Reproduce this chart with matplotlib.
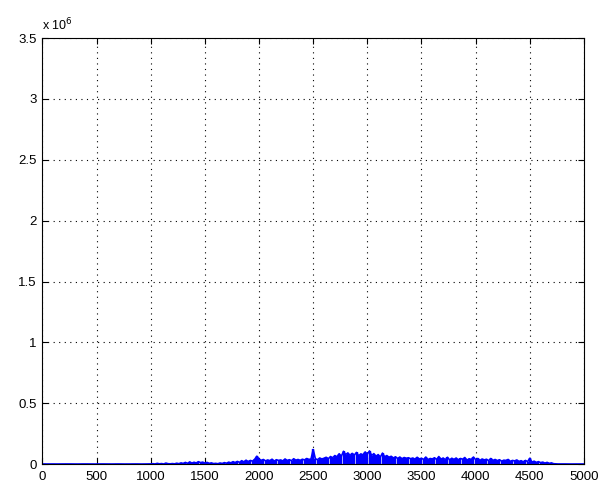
import matplotlib
matplotlib.use("Agg")
import matplotlib.pyplot as plt
import numpy as np

# Peak magnitude (thousands) in consecutive 20-unit bins from 0 to 5000.
SAMPLE_STEP = 20
MAGNITUDE_K = [
    0.5, 1, 0.5, 1, 0.8, 0.5, 1, 0.6, 0.9, 0.5,
    0.7, 1, 0.5, 0.9, 0.6, 1, 0.5, 0.8, 0.6, 1,
    0.5, 0.9, 0.6, 1, 0.5, 0.8, 0.7, 1, 0.5, 0.9,
    0.6, 1, 0.5, 0.8, 0.7, 1, 0.6, 0.9, 0.5, 1,
    0.6, 0.9, 0.5, 1, 0.7, 0.8, 0.5, 1, 0.6, 1.2,
    1.5, 3, 1, 6, 2, 4, 1, 8, 3, 2,
    4, 2, 7, 3, 10, 5, 14, 6, 18, 8,
    15, 9, 20, 12, 16, 8, 14, 6, 10, 4,
    6, 3, 9, 5, 12, 7, 16, 10, 20, 12,
    22, 14, 28, 18, 32, 20, 30, 24, 40, 65,
    42, 30, 38, 26, 34, 28, 40, 24, 36, 30,
    34, 26, 42, 30, 36, 28, 44, 32, 38, 30,
    40, 34, 46, 38, 42, 120, 44, 36, 50, 42,
    48, 56, 44, 62, 52, 70, 60, 85, 64, 105,
    78, 92, 70, 88, 74, 96, 68, 84, 76, 100,
    82, 108, 70, 86, 64, 78, 58, 90, 60, 70,
    56, 64, 50, 60, 46, 58, 44, 54, 48, 52,
    44, 50, 40, 56, 42, 48, 38, 58, 36, 46,
    42, 52, 38, 62, 40, 50, 36, 56, 34, 48,
    38, 50, 34, 46, 40, 54, 32, 44, 38, 58,
    36, 46, 30, 42, 34, 40, 28, 46, 30, 38,
    28, 36, 24, 32, 30, 38, 22, 30, 26, 34,
    22, 28, 18, 30, 20, 48, 16, 24, 14, 20,
    12, 16, 8, 14, 6, 10, 3, 2, 1, 1.2,
    0.8, 1, 0.6, 0.9, 0.5, 1, 0.7, 0.8, 0.5, 0.9,
    0.6,
]

X_TICKS = [0, 500, 1000, 1500, 2000, 2500, 3000, 3500, 4000, 4500, 5000]
Y_TICKS = [0, 0.5, 1, 1.5, 2, 2.5, 3, 3.5]
Y_TICK_LABELS = ["0", "0.5", "1", "1.5", "2", "2.5", "3", "3.5"]

plt.rcParams["font.family"] = ["Liberation Sans", "DejaVu Sans"]

fig = plt.figure(figsize=(6.02, 4.88), dpi=100)
ax = fig.add_axes([0.0705, 0.049, 0.8995, 0.873])

x = np.arange(len(MAGNITUDE_K)) * SAMPLE_STEP
y = np.array(MAGNITUDE_K) * 1e3
# dense signal: each bin drawn as a bar from zero so the trace reads as a filled band
ax.vlines(x, 0, y, color="#0000ff", linewidth=1.7)
ax.plot(x, y, color="#0000ff", linewidth=1.2)

ax.set_xlim(0, 5000)
ax.set_ylim(0, 3.5e6)
ax.set_xticks(X_TICKS)
ax.set_xticklabels([str(t) for t in X_TICKS])
ax.set_yticks([v * 1e6 for v in Y_TICKS])
ax.set_yticklabels(Y_TICK_LABELS)

ax.grid(True, color="black", linestyle=(0, (1, 4)), linewidth=0.8)
ax.tick_params(direction="in", length=4, width=0.8, labelsize=9.5,
               top=True, right=True, colors="black")
ax.tick_params(axis="x", pad=5)
ax.tick_params(axis="y", pad=4)
for spine in ax.spines.values():
    spine.set_linewidth(0.8)

ax.text(0.0, 1.012, r"x 10$^6$", transform=ax.transAxes, fontsize=9,
        ha="left", va="bottom")

fig.savefig("out.png", dpi=100)
